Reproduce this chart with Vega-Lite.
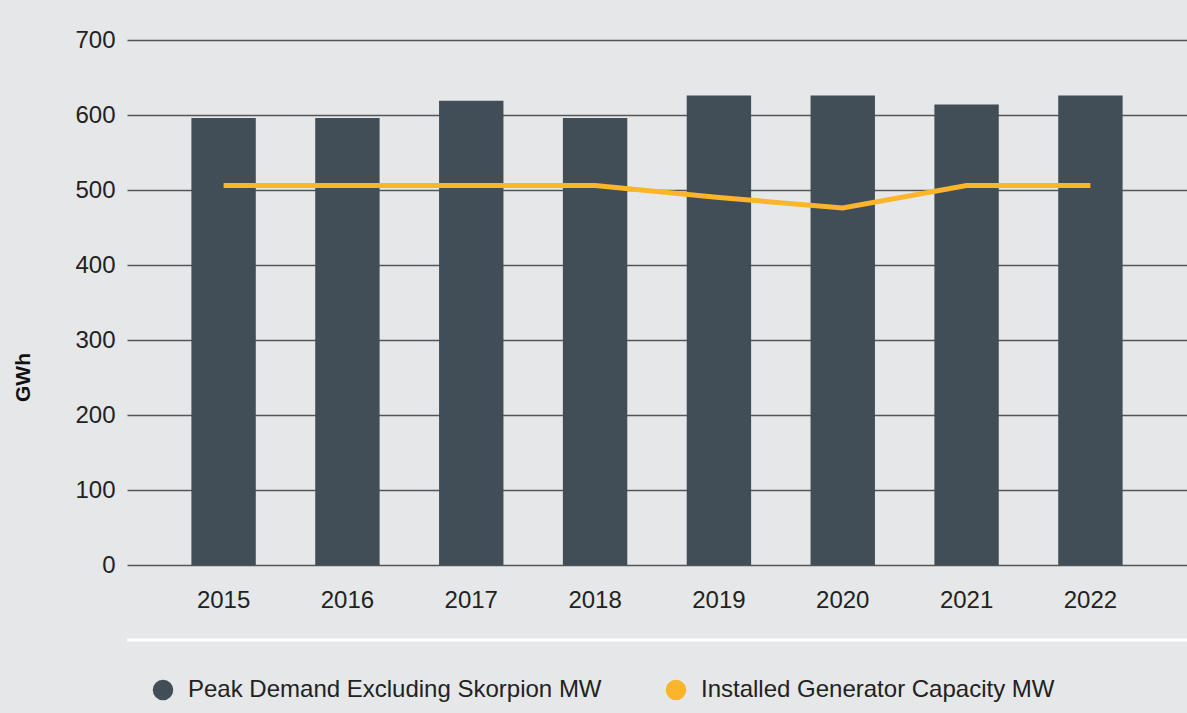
{
  "$schema": "https://vega.github.io/schema/vega-lite/v6.json",
  "width": 1060,
  "height": 525,
  "autosize": {"type": "none"},
  "padding": {"left": 127, "top": 40, "right": 0, "bottom": 148},
  "background": "#e6e7e8",
  "config": {
    "view": {"stroke": null},
    "font": "Liberation Sans",
    "axis": {"labelFont": "Liberation Sans", "titleFont": "Liberation Sans", "labelColor": "#222222"},
    "legend": {"labelFont": "Liberation Sans"}
  },
  "data": {
    "values": [
      {"year": "2015", "series": "Peak Demand Excluding Skorpion MW", "value": 596},
      {"year": "2016", "series": "Peak Demand Excluding Skorpion MW", "value": 596},
      {"year": "2017", "series": "Peak Demand Excluding Skorpion MW", "value": 619},
      {"year": "2018", "series": "Peak Demand Excluding Skorpion MW", "value": 596},
      {"year": "2019", "series": "Peak Demand Excluding Skorpion MW", "value": 626},
      {"year": "2020", "series": "Peak Demand Excluding Skorpion MW", "value": 626},
      {"year": "2021", "series": "Peak Demand Excluding Skorpion MW", "value": 614},
      {"year": "2022", "series": "Peak Demand Excluding Skorpion MW", "value": 626},
      {"year": "2015", "series": "Installed Generator Capacity MW", "value": 506},
      {"year": "2016", "series": "Installed Generator Capacity MW", "value": 506},
      {"year": "2017", "series": "Installed Generator Capacity MW", "value": 506},
      {"year": "2018", "series": "Installed Generator Capacity MW", "value": 506},
      {"year": "2019", "series": "Installed Generator Capacity MW", "value": 490},
      {"year": "2020", "series": "Installed Generator Capacity MW", "value": 476},
      {"year": "2021", "series": "Installed Generator Capacity MW", "value": 506},
      {"year": "2022", "series": "Installed Generator Capacity MW", "value": 506}
    ]
  },
  "layer": [
    {
      "transform": [{"filter": "datum.series === 'Peak Demand Excluding Skorpion MW'"}],
      "mark": {"type": "bar", "color": "#414e57"},
      "encoding": {
        "x": {
          "field": "year", "type": "nominal", "sort": null,
          "scale": {"paddingInner": 0.48, "paddingOuter": 0.52},
          "axis": {"title": null, "labelAngle": 0, "domain": false, "ticks": false, "labelFontSize": 24, "labelPadding": 23, "grid": false}
        },
        "y": {
          "field": "value", "type": "quantitative",
          "scale": {"domain": [0, 700], "nice": false, "zero": true},
          "axis": {"title": "GWh", "values": [0,100,200,300,400,500,600,700], "domain": false, "ticks": false, "labelFontSize": 24, "labelPadding": 12, "gridColor": "#555555", "gridWidth": 1.5, "titleFontSize": 21, "titleFontWeight": "bold", "titleColor": "#111111", "titleX": -94, "titleY": 337, "titleAngle": 270}
        },
        "color": {
          "field": "series", "type": "nominal",
          "scale": {"domain": ["Peak Demand Excluding Skorpion MW", "Installed Generator Capacity MW"], "range": ["#414e57", "#fbb52b"]},
          "legend": {"title": null, "orient": "none", "direction": "horizontal", "legendX": 24, "legendY": 638, "symbolType": "circle", "symbolSize": 420, "labelFontSize": 24, "labelLimit": 0, "labelColor": "#222222", "columnPadding": 62, "symbolStrokeWidth": 0, "labelOffset": 13}
        }
      }
    },
    {
      "transform": [{"filter": "datum.series === 'Installed Generator Capacity MW'"}],
      "mark": {"type": "line", "color": "#fbb52b", "strokeWidth": 5},
      "encoding": {
        "x": {"field": "year", "type": "nominal", "sort": null},
        "y": {"field": "value", "type": "quantitative"}
      }
    },
    {
      "data": {"values": [{"sep": -100}]},
      "mark": {"type": "rule", "color": "#ffffff", "strokeWidth": 3},
      "encoding": {"y": {"field": "sep", "type": "quantitative"}}
    }
  ]
}
